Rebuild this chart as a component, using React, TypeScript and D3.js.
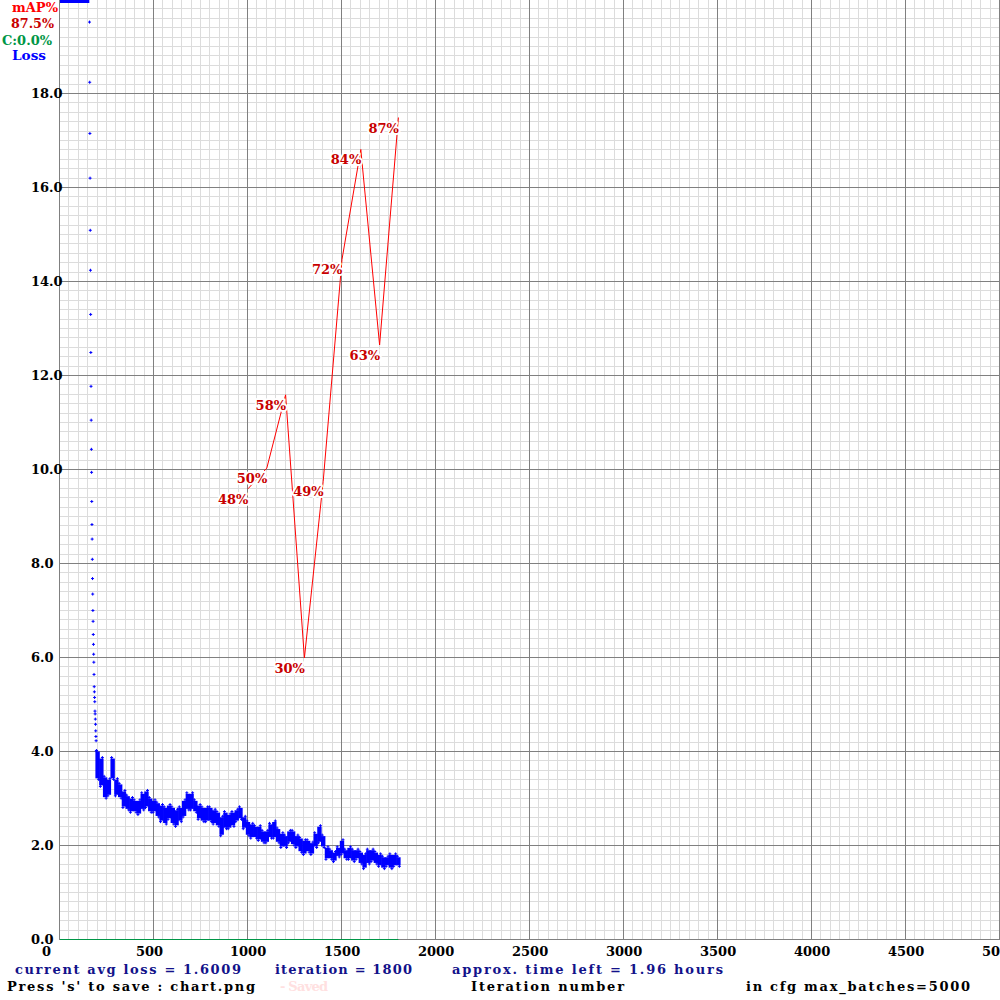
import React from "react";
import * as d3 from "d3";

// loss points of the steep early descent, one per iteration from lossEarlyStart
const lossEarlyStart = 157;
const lossEarly = [
  19.53, 18.25, 17.16, 16.21, 15.1, 14.25, 13.31, 12.5, 11.78, 11.06, 10.44, 9.95,
  9.33, 8.84, 8.53, 8.1, 7.69, 7.36, 7.01, 6.78, 6.5, 6.29, 6.08, 5.91, 5.65, 5.39,
  5.28, 5.16, 5.07, 4.87, 4.81, 4.7, 4.59, 4.45, 4.33, 4.24, 4.02,
];
// iterations before this one have loss above the chart top (clamped)
const lossClippedUntil = 156;

// scatter band of loss, every 20 iterations: low / high edges
const bandIter = d3.range(200, 1801, 20);
const lossLow = [
  3.45, 3.3, 3.05, 3.1, 3.45, 3.1, 3.05, 2.85, 2.8, 2.75, 2.75, 2.7, 2.8, 2.85, 2.75, 2.75,
  2.65, 2.55, 2.5, 2.6, 2.5, 2.45, 2.55, 2.65, 2.8, 2.8, 2.75, 2.6, 2.55, 2.55, 2.55, 2.5,
  2.45, 2.25, 2.4, 2.4, 2.45, 2.55, 2.6, 2.4, 2.25, 2.2, 2.2, 2.15, 2.1, 2.1, 2.2, 2.2,
  2.1, 2.0, 2.0, 2.1, 2.05, 2.0, 1.9, 1.85, 1.9, 1.85, 2.0, 2.1, 2.0, 1.75, 1.75, 1.7,
  1.8, 1.85, 1.75, 1.75, 1.7, 1.75, 1.65, 1.55, 1.65, 1.7, 1.65, 1.6, 1.55, 1.6, 1.55,
  1.6, 1.6,
];
const lossHigh = [
  4.0, 3.85, 3.45, 3.4, 3.85, 3.4, 3.3, 3.15, 3.05, 3.0, 2.95, 2.95, 3.1, 3.15, 3.0, 2.95,
  2.9, 2.85, 2.8, 2.85, 2.8, 2.75, 2.8, 2.95, 3.1, 3.1, 2.95, 2.85, 2.8, 2.8, 2.8, 2.75,
  2.7, 2.6, 2.7, 2.65, 2.7, 2.75, 2.8, 2.6, 2.5, 2.45, 2.4, 2.4, 2.3, 2.3, 2.45, 2.5,
  2.35, 2.25, 2.2, 2.3, 2.3, 2.2, 2.15, 2.1, 2.1, 2.05, 2.25, 2.4, 2.2, 1.95, 1.9, 1.85,
  1.95, 2.1, 1.9, 1.95, 1.9, 1.9, 1.85, 1.8, 1.9, 1.9, 1.85, 1.8, 1.75, 1.75, 1.8,
  1.8, 1.75,
];

// mAP checkpoints
const mapIter = [1000, 1100, 1200, 1300, 1400, 1500, 1600, 1700, 1800];
const mapValue = [48.0, 50.2, 58.0, 30.0, 48.8, 72.4, 84.1, 63.3, 87.5];
const mapLabels = ["48%", "50%", "58%", "30%", "49%", "72%", "84%", "63%", "87%"];

const xTicks = [0, 500, 1000, 1500, 2000, 2500, 3000, 3500, 4000, 4500, 5000];
const yTicks = [0, 2, 4, 6, 8, 10, 12, 14, 16, 18];
const yTickLabels = ["0.0", "2.0", "4.0", "6.0", "8.0", "10.0", "12.0", "14.0", "16.0", "18.0"];

const W = 1000;
const H = 1000;
const font = "'DejaVu Serif', serif";

const App: React.FC = () => {
  const x = d3.scaleLinear().domain([0, 5000]).range([60, 1000]);
  const y = d3.scaleLinear().domain([0, 20]).range([940, 0]);
  const yMap = d3.scaleLinear().domain([0, 100]).range([940, 0]);

  const minorX = d3.range(0, 5001, 50);
  const minorY = d3.range(0, 100.001, 1).map((d) => d / 5);

  const plus = (px: number, py: number) =>
    `M${px - 1.5},${py}h3M${px},${py - 1.5}v3`;

  const mapLine = d3
    .line<number>()
    .x((_, i) => x(mapIter[i]))
    .y((d) => yMap(d));

  const txt = {
    fontFamily: font,
    fontWeight: "bold" as const,
    fontSize: 13,
  };

  return (
    <>
      <style>{"body{margin:0}"}</style>
      <svg width={W} height={H} style={{ display: "block", background: "#fff" }}>
        <rect width={W} height={H} fill="#fff" />

        {/* minor grid */}
        <g stroke="#dcdcdc" strokeWidth={1}>
          {minorX.map((v) => (
            <line key={"mx" + v} x1={Math.round(x(v)) - 0.5} x2={Math.round(x(v)) - 0.5} y1={0} y2={940} />
          ))}
          {minorY.map((v) => (
            <line key={"my" + v} x1={60} x2={W} y1={Math.round(y(v)) - 0.5} y2={Math.round(y(v)) - 0.5} />
          ))}
        </g>
        {/* major grid */}
        <g stroke="#808080" strokeWidth={1}>
          {xTicks.map((v) => (
            <line key={"Mx" + v} x1={Math.round(x(v)) - 0.5} x2={Math.round(x(v)) - 0.5} y1={0} y2={940} />
          ))}
          {yTicks.map((v) => (
            <line key={"My" + v} x1={60} x2={W} y1={Math.round(y(v)) - 0.5} y2={Math.round(y(v)) - 0.5} />
          ))}
        </g>
        {/* contrastive accuracy line at 0 */}
        <line x1={x(0)} x2={x(1800)} y1={939.5} y2={939.5} stroke="#009646" strokeWidth={1} />

        {/* tick labels */}
        <g {...txt} fill="#000">
          {yTicks.map((v, i) => (
            <text key={"yl" + v} x={31} y={y(v) + 4}>
              {yTickLabels[i]}
            </text>
          ))}
          {xTicks.map((v) => (
            <text key={"xl" + v} x={x(v) - 18} y={956}>
              {v}
            </text>
          ))}
        </g>

        {/* loss */}
        <g fill="#0000ff">
          <rect x={x(0)} y={0} width={x(lossClippedUntil) - x(0)} height={3} />
          {bandIter.map((it, i) => (
            <rect
              key={"b" + it}
              x={x(it) - 2.2}
              width={4.4}
              y={y(lossHigh[i]) - 0.5}
              height={y(lossLow[i]) - y(lossHigh[i]) + 1}
            />
          ))}
        </g>
        <g stroke="#0000ff" strokeWidth={1} fill="none">
          {lossEarly.map((v, i) => (
            <path key={"e" + i} d={plus(x(lossEarlyStart + i), y(v))} />
          ))}
          {bandIter.map((it, i) => (
            <path key={"h" + it} d={plus(x(it) + (i % 2 ? 1 : -1), y(lossHigh[i]) - 1.5)} />
          ))}
          {bandIter.map((it, i) => (
            <path key={"l" + it} d={plus(x(it) + (i % 2 ? -1 : 1), y(lossLow[i]) + 1.5)} />
          ))}
        </g>

        {/* mAP */}
        <path d={mapLine(mapValue) || ""} fill="none" stroke="#ff0000" strokeWidth={1} />
        <g {...txt}>
          {mapValue.map((v, i) => (
            <text
              key={"m" + i}
              x={x(mapIter[i]) - 30}
              y={yMap(v) + 15}
              fill="#c80000"
              stroke="#fff"
              strokeWidth={4}
              paintOrder="stroke"
              strokeLinejoin="round"
            >
              {mapLabels[i]}
            </text>
          ))}
        </g>

        {/* legend */}
        <g {...txt}>
          <text x={12} y={12} fill="#ff0000" textLength={46} lengthAdjust="spacingAndGlyphs">mAP%</text>
          <text x={11} y={28} fill="#c80000" stroke="#fff" strokeWidth={4} paintOrder="stroke" textLength={43} lengthAdjust="spacingAndGlyphs">87.5%</text>
          <text x={2} y={45} fill="#009646" textLength={50} lengthAdjust="spacingAndGlyphs">C:0.0%</text>
          <text x={12} y={60} fill="#0000ff" textLength={34} lengthAdjust="spacingAndGlyphs">Loss</text>
        </g>

        {/* bottom status text */}
        <g {...txt}>
          <text x={15} y={974} fill="#12128a" textLength={226} lengthAdjust="spacing">current avg loss = 1.6009</text>
          <text x={275} y={974} fill="#12128a" textLength={137} lengthAdjust="spacing">iteration = 1800</text>
          <text x={452} y={974} fill="#12128a" textLength={271} lengthAdjust="spacing">approx. time left = 1.96 hours</text>
          <text x={7} y={991} fill="#000" textLength={248} lengthAdjust="spacing">Press 's' to save : chart.png</text>
          <text x={280} y={991} fill="#ffe0e0" textLength={48} lengthAdjust="spacing">- Saved</text>
          <text x={471} y={991} fill="#000" textLength={153} lengthAdjust="spacing">Iteration number</text>
          <text x={746} y={991} fill="#000" textLength={224} lengthAdjust="spacing">in cfg max_batches=5000</text>
        </g>
      </svg>
    </>
  );
};

export default App;
